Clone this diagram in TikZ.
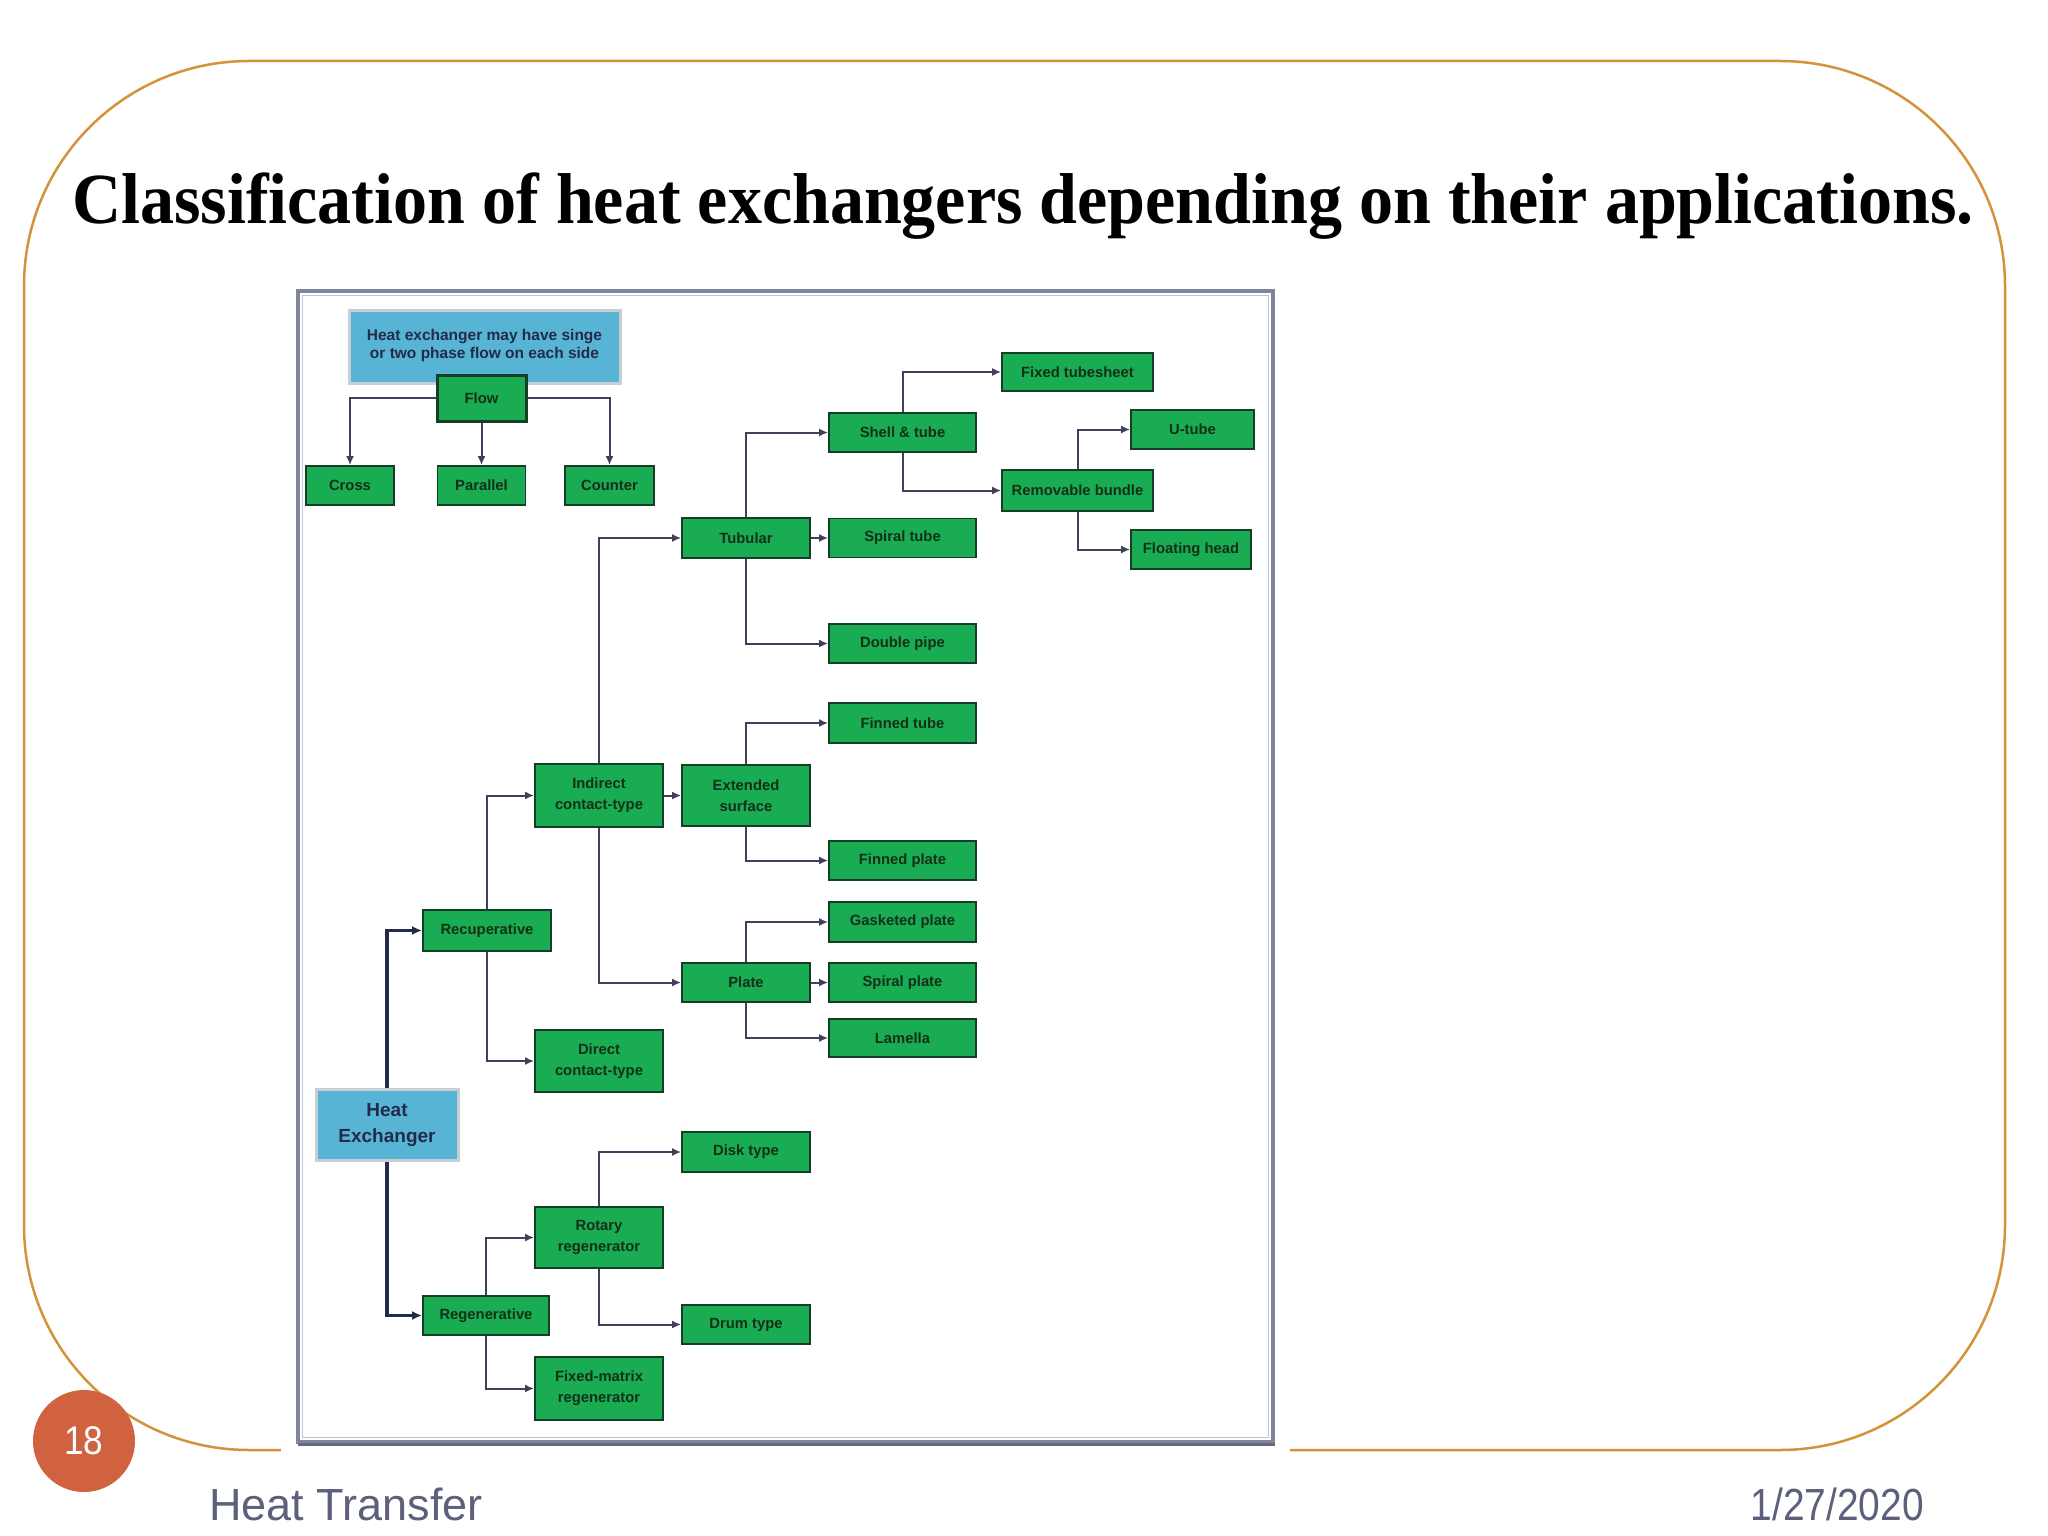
\documentclass[tikz,border=0pt]{standalone}
\usepackage{fontspec}
\usepackage{graphicx}
\setmainfont{Liberation Serif}
\setsansfont{Liberation Sans}
\usetikzlibrary{arrows.meta}
\definecolor{orangeb}{RGB}{212,146,58}
\definecolor{gfill}{RGB}{26,172,82}
\definecolor{gline}{RGB}{22,62,38}
\definecolor{bfill}{RGB}{88,180,212}
\definecolor{navy}{RGB}{36,42,74}
\definecolor{connc}{RGB}{62,65,92}
\definecolor{ctext}{RGB}{18,48,24}
\definecolor{footc}{RGB}{92,96,122}
\definecolor{pgc}{RGB}{208,98,64}
\definecolor{framec}{RGB}{128,132,156}
\definecolor{framel}{RGB}{190,194,210}
\definecolor{shadowc}{RGB}{200,206,214}
\tikzset{
  gbox/.style={draw=gline, line width=1.8pt, fill=gfill, inner sep=0pt, align=center,
    text=ctext, font=\sffamily\bfseries\fontsize{14.8}{21}\selectfont},
  bbox/.style={draw=shadowc, line width=3pt, fill=bfill, inner sep=0pt, align=center, text=navy},
  conn/.style={draw=connc, line width=2pt, -{Latex[length=9pt,width=8pt]}},
  hxconn/.style={draw=navy, line width=3.5pt, -{Latex[length=10pt,width=9pt]}},
}
\begin{document}
\begin{tikzpicture}[x=1pt,y=-1pt]
\useasboundingbox (0,0) rectangle (2048,1536);
\fill[white] (0,0) rectangle (2048,1536);
% slide border
\draw[orangeb, line width=2.5pt, rounded corners=225pt] (24,61) rectangle (2005,1450);
% title
\node[anchor=base, inner sep=0pt, font=\bfseries\fontsize{72}{80}\selectfont] (title) at (1023,223)
  {\scalebox{0.945}[1]{Classification of heat exchangers depending on their applications.}};
% diagram frame
\fill[white] (281,281) rectangle (1290,1453);
\draw[framec, line width=3.5pt] (298,291) rectangle (1273,1442);
\draw[framel, line width=1.2pt] (302.5,295.5) rectangle (1268.5,1437.5);
\draw[framec!80!black, line width=3pt] (298,1444) -- (1275,1444);
% nodes
\node[bbox, minimum width=271pt, minimum height=73pt, font=\sffamily\bfseries\fontsize{15.5}{21}\selectfont] (info) at (484.5,346.5)
  {\raisebox{5pt}{\shortstack{Heat exchanger may have singe\\or two phase flow on each side}}};
\node[gbox, line width=3pt, minimum width=89pt, minimum height=46pt] (flow) at (481.5,398) {Flow};
\node[gbox, minimum width=88pt, minimum height=39pt] (cross) at (350,485.5) {Cross};
\node[gbox, minimum width=88pt, minimum height=39pt] (parallel) at (481.5,485.5) {Parallel};
\node[gbox, minimum width=89pt, minimum height=39pt] (counter) at (609.5,485.5) {Counter};

\node[bbox, minimum width=142pt, minimum height=71pt, font=\sffamily\bfseries\fontsize{19}{26}\selectfont] (hx) at (387,1124.5) {Heat\\Exchanger};
\node[gbox, minimum width=128pt, minimum height=41pt] (recup) at (487,930.5) {Recuperative};
\node[gbox, minimum width=126pt, minimum height=39pt] (regen) at (486,1315.5) {Regenerative};

\node[gbox, minimum width=128pt, minimum height=63pt] (indirect) at (599,795.5) {Indirect\\contact-type};
\node[gbox, minimum width=128pt, minimum height=62pt] (direct) at (599,1061) {Direct\\contact-type};
\node[gbox, minimum width=128pt, minimum height=61pt] (rotary) at (599,1237.5) {Rotary\\regenerator};
\node[gbox, minimum width=128pt, minimum height=63pt] (fixedm) at (599,1388.5) {Fixed-matrix\\regenerator};

\node[gbox, minimum width=128pt, minimum height=40pt] (disk) at (746,1152) {Disk type};
\node[gbox, minimum width=128pt, minimum height=39pt] (drum) at (746,1324.5) {Drum type};
\node[gbox, minimum width=128pt, minimum height=40pt] (tubular) at (746,538) {Tubular};
\node[gbox, minimum width=128pt, minimum height=61pt] (extended) at (746,795.5) {Extended\\surface};
\node[gbox, minimum width=128pt, minimum height=39pt] (plate) at (746,982.5) {Plate};

\node[gbox, minimum width=147pt, minimum height=39pt] (shell) at (902.5,432.5) {Shell \& tube};
\node[gbox, minimum width=147pt, minimum height=39pt] (spiraltube) at (902.5,538) {Spiral tube};
\node[gbox, minimum width=147pt, minimum height=39pt] (double) at (902.5,643.5) {Double pipe};
\node[gbox, minimum width=147pt, minimum height=40pt] (finnedtube) at (902.5,723) {Finned tube};
\node[gbox, minimum width=147pt, minimum height=39pt] (finnedplate) at (902.5,860.5) {Finned plate};
\node[gbox, minimum width=147pt, minimum height=40pt] (gasketed) at (902.5,922) {Gasketed plate};
\node[gbox, minimum width=147pt, minimum height=39pt] (spiralplate) at (902.5,982.5) {Spiral plate};
\node[gbox, minimum width=147pt, minimum height=38pt] (lamella) at (902.5,1038) {Lamella};

\node[gbox, minimum width=151pt, minimum height=38pt] (fixedtube) at (1077.5,372) {Fixed tubesheet};
\node[gbox, minimum width=151pt, minimum height=41pt] (removable) at (1077.5,490.5) {Removable bundle};
\node[gbox, minimum width=123pt, minimum height=39pt] (utube) at (1192.5,429.5) {U-tube};
\node[gbox, minimum width=120pt, minimum height=39pt] (floating) at (1191,549.5) {Floating head};

% connectors
\draw[conn] (flow.west) -| (cross.north);
\draw[conn] (flow.south) -- (parallel.north);
\draw[conn] (flow.east) -| (counter.north);
\draw[hxconn] (hx.north) |- (recup.west);
\draw[hxconn] (hx.south) |- (regen.west);
\draw[conn] (recup.north) |- (indirect.west);
\draw[conn] (recup.south) |- (direct.west);
\draw[conn] (regen.north) |- (rotary.west);
\draw[conn] (regen.south) |- (fixedm.west);
\draw[conn] (rotary.north) |- (disk.west);
\draw[conn] (rotary.south) |- (drum.west);
\draw[conn] (indirect.north) |- (tubular.west);
\draw[conn] (indirect.east) -- (extended.west);
\draw[conn] (indirect.south) |- (plate.west);
\draw[conn] (tubular.north) |- (shell.west);
\draw[conn] (tubular.east) -- (spiraltube.west);
\draw[conn] (tubular.south) |- (double.west);
\draw[conn] (extended.north) |- (finnedtube.west);
\draw[conn] (extended.south) |- (finnedplate.west);
\draw[conn] (plate.north) |- (gasketed.west);
\draw[conn] (plate.east) -- (spiralplate.west);
\draw[conn] (plate.south) |- (lamella.west);
\draw[conn] (shell.north) |- (fixedtube.west);
\draw[conn] (shell.south) |- (removable.west);
\draw[conn] (removable.north) |- (utube.west);
\draw[conn] (removable.south) |- (floating.west);

% footer
\node[circle, fill=pgc, minimum size=102pt, inner sep=0pt, text=white,
  font=\sffamily\fontsize{40}{40}\selectfont] (pg) at (84,1441) {\scalebox{0.88}[1]{18}};
\node[anchor=base west, inner sep=0pt, text=footc, font=\sffamily\fontsize{45}{50}\selectfont] (foot) at (209,1520) {Heat Transfer};
\node[anchor=base east, inner sep=0pt, text=footc, font=\sffamily\fontsize{45}{50}\selectfont] (date) at (1924,1520) {\scalebox{0.865}[1]{1/27/2020}};
\end{tikzpicture}
\end{document}
